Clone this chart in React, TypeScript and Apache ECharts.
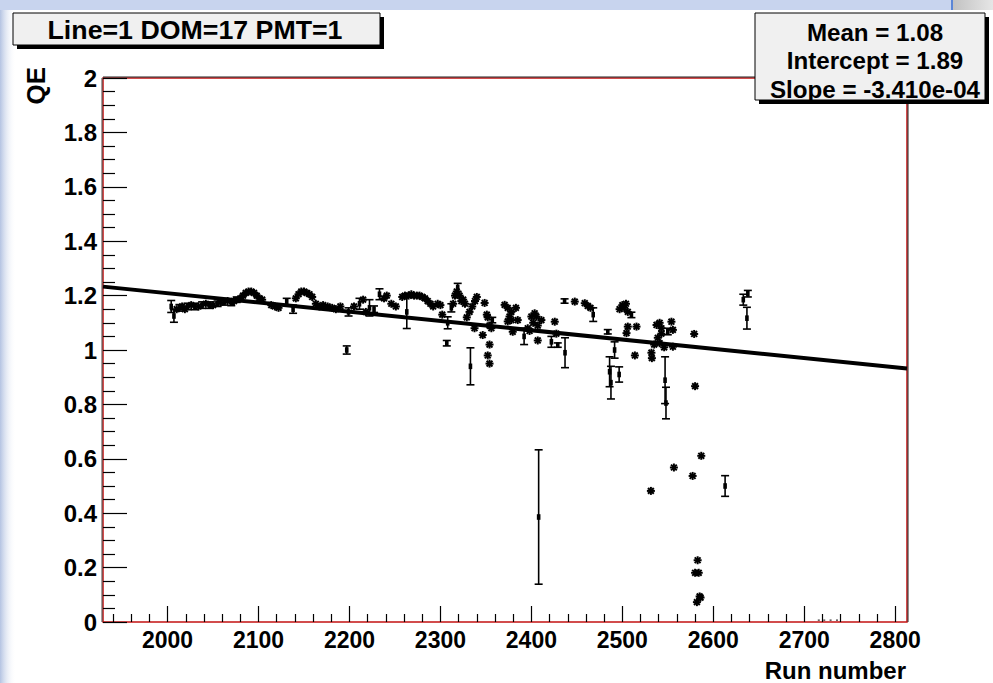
import React, { useEffect, useRef } from "react";
import * as echarts from "echarts";

// ---------- data ----------
const titleText = "Line=1 DOM=17 PMT=1";
const statsLines = ["Mean = 1.08", "Intercept = 1.89", "Slope = -3.410e-04"];
const xAxisTitle = "Run number";
const yAxisTitle = "QE";

const xMin = 1929;
const xMax = 2813;
const yMin = 0;
const yMax = 2;
const xMajorTicks = [2000, 2100, 2200, 2300, 2400, 2500, 2600, 2700, 2800];

// fit line (ends of the drawn line)
const fitRuns = [1929, 2813];
const fitQE = [1.233, 0.932];

// points drawn with visible error bars: [run, QE, error]
const errPoints: [number, number, number][] = [
  [2004, 1.16, 0.022], [2007, 1.125, 0.023], [2013, 1.155, 0.012], [2022, 1.16, 0.012],
  [2030, 1.16, 0.012], [2038, 1.165, 0.012], [2046, 1.165, 0.012], [2055, 1.17, 0.01],
  [2062, 1.175, 0.01], [2070, 1.175, 0.012], [2076, 1.185, 0.01], [2131, 1.178, 0.012],
  [2138, 1.15, 0.015], [2197, 1.0, 0.015], [2199, 1.14, 0.015], [2211, 1.17, 0.02],
  [2222, 1.155, 0.03], [2227, 1.15, 0.012], [2233, 1.205, 0.02], [2263, 1.14, 0.061],
  [2307, 1.025, 0.01], [2308, 1.1, 0.022], [2312, 1.155, 0.015], [2319, 1.23, 0.015],
  [2333, 0.94, 0.068], [2357, 1.11, 0.01], [2392, 1.05, 0.03], [2408, 0.386, 0.247],
  [2422, 1.03, 0.02], [2429, 1.018, 0.008], [2436.5, 1.18, 0.008], [2437, 0.99, 0.055],
  [2468, 1.13, 0.025], [2484, 1.067, 0.008], [2486, 0.92, 0.055], [2487.5, 0.88, 0.06],
  [2491.5, 1.0, 0.03], [2496.5, 0.91, 0.028], [2510, 1.129, 0.01], [2547, 0.889, 0.086],
  [2548, 0.805, 0.058], [2550, 1.068, 0.012], [2613, 0.5, 0.038], [2633, 1.185, 0.02],
  [2637, 1.117, 0.04], [2638, 1.207, 0.012],
];

// points whose error is smaller than the marker: [run, QE]
const starPoints: [number, number][] = [
  [2010, 1.15], [2016, 1.16], [2019, 1.15], [2026, 1.165], [2034, 1.16], [2042, 1.17],
  [2050, 1.165], [2058, 1.175], [2066, 1.18], [2073, 1.18], [2080, 1.19],
  [2083, 1.2], [2086, 1.21], [2089, 1.215], [2092, 1.215], [2095, 1.21], [2098, 1.2],
  [2101, 1.19], [2104, 1.185], [2114, 1.165], [2118, 1.16], [2122, 1.155],
  [2141, 1.19], [2144, 1.205], [2147, 1.215], [2150, 1.215], [2153, 1.21], [2156, 1.205],
  [2159, 1.195], [2163, 1.17], [2167, 1.16], [2171, 1.165], [2176, 1.16], [2181, 1.155],
  [2185, 1.15], [2190, 1.16], [2205, 1.16], [2215, 1.185], [2218, 1.14], [2238, 1.19],
  [2241, 1.2], [2246, 1.17], [2251, 1.16],
  [2258, 1.195], [2261, 1.2], [2265, 1.2], [2268, 1.205], [2271, 1.2], [2274, 1.2],
  [2277, 1.2], [2280, 1.195], [2283, 1.19], [2286, 1.18], [2289, 1.17], [2292, 1.16],
  [2297, 1.17], [2300, 1.165], [2302, 1.13], [2314, 1.17], [2316, 1.2], [2318, 1.215],
  [2321, 1.2], [2323, 1.18], [2325, 1.185], [2327, 1.17],
  [2329, 1.12], [2332, 1.14], [2335, 1.16], [2338, 1.18], [2340, 1.195], [2337.5, 1.08],
  [2348.6, 1.173], [2346.5, 1.055], [2351, 1.13], [2352, 1.12], [2354, 1.09], [2356, 1.08],
  [2354, 1.02], [2352, 0.98], [2354, 0.95],
  [2370.6, 1.166], [2374, 1.155], [2378, 1.14], [2383, 1.155], [2376, 1.123], [2378, 1.11],
  [2374, 1.105], [2385, 1.11], [2379.5, 1.067],
  [2400, 1.123], [2403.6, 1.135], [2405.5, 1.123], [2411, 1.11], [2402, 1.1], [2407, 1.09],
  [2398, 1.07], [2396, 1.08], [2407, 1.035], [2425.7, 1.104], [2427.5, 1.06],
  [2447.7, 1.178], [2458.7, 1.172], [2462, 1.162], [2465, 1.155],
  [2497, 1.15], [2500, 1.165], [2502, 1.155], [2504, 1.17], [2506, 1.14],
  [2506, 1.086], [2504.6, 1.062], [2515.6, 1.086], [2513.8, 0.98], [2532, 0.99], [2532.5, 0.97],
  [2537.6, 1.092], [2541, 1.1], [2543, 1.08], [2543, 1.06], [2541, 1.025], [2546, 1.01],
  [2535, 1.02], [2539, 1.045], [2554, 1.104], [2555.6, 1.074], [2555.6, 1.012],
  [2579, 1.059], [2580, 0.867], [2531.4, 0.482], [2556.7, 0.568], [2577.3, 0.537],
  [2586.8, 0.611], [2582.8, 0.227], [2580, 0.181], [2584, 0.181], [2585, 0.094],
  [2582, 0.073], [2586, 0.09],
];

// tiny points lying on the axis
const zeroPoints: [number, number][] = [
  [2716, 0.004], [2722, 0.004], [2729, 0.004], [2736, 0.004],
];

// ---------- component ----------
const FONT = "'Liberation Sans', Arial, Helvetica, sans-serif";

export default function App() {
  const ref = useRef<HTMLDivElement>(null);

  useEffect(() => {
    document.body.style.margin = "0";
    const chart = echarts.init(ref.current!, undefined, { renderer: "svg" });

    const minorTicks: number[] = [];
    for (let v = Math.ceil(xMin / 20) * 20; v <= xMax; v += 20) {
      if (v % 100 !== 0) minorTicks.push(v);
    }

    const gridLeft = 103, gridTop = 78, gridRight = 86, gridBottom = 61;

    const errRender = (params: any, api: any) => {
      const x = api.value(0), y = api.value(1), e = api.value(2);
      const c = api.coord([x, y]);
      const t = api.coord([x, y + e]);
      const b = api.coord([x, y - e]);
      const cw = 4;
      const st = { stroke: "#000", lineWidth: 1.6 };
      return {
        type: "group",
        children: [
          { type: "line", shape: { x1: c[0], y1: t[1], x2: c[0], y2: b[1] }, style: st },
          { type: "line", shape: { x1: c[0] - cw, y1: t[1], x2: c[0] + cw, y2: t[1] }, style: st },
          { type: "line", shape: { x1: c[0] - cw, y1: b[1], x2: c[0] + cw, y2: b[1] }, style: st },
          { type: "rect", shape: { x: c[0] - 1.8, y: c[1] - 2.8, width: 3.6, height: 5.6 }, style: { fill: "#000" } },
        ],
      };
    };

    const starRender = (params: any, api: any) => {
      const c = api.coord([api.value(0), api.value(1)]);
      const r = 4, d = 2.9;
      const st = { stroke: "#000", lineWidth: 2 };
      return {
        type: "group",
        children: [
          { type: "line", shape: { x1: c[0] - r, y1: c[1], x2: c[0] + r, y2: c[1] }, style: st },
          { type: "line", shape: { x1: c[0], y1: c[1] - r, x2: c[0], y2: c[1] + r }, style: st },
          { type: "line", shape: { x1: c[0] - d, y1: c[1] - d, x2: c[0] + d, y2: c[1] + d }, style: st },
          { type: "line", shape: { x1: c[0] - d, y1: c[1] + d, x2: c[0] + d, y2: c[1] - d }, style: st },
          { type: "circle", shape: { cx: c[0], cy: c[1], r: 2 }, style: { fill: "#000" } },
        ],
      };
    };

    const dotRender = (params: any, api: any) => {
      const c = api.coord([api.value(0), api.value(1)]);
      return { type: "rect", shape: { x: c[0] - 1, y: c[1] - 1.5, width: 2, height: 1.5 }, style: { fill: "#555" } };
    };

    const option: any = {
      animation: false,
      backgroundColor: "#ffffff",
      grid: {
        left: gridLeft, top: gridTop, right: gridRight, bottom: gridBottom,
        show: true, borderColor: "#c41212", borderWidth: 1.5, backgroundColor: "transparent",
      },
      xAxis: [
        {
          type: "value", min: xMin, max: xMax, position: "bottom",
          axisLine: { show: false },
          splitLine: { show: false },
          axisTick: { show: true, inside: true, length: 16, customValues: xMajorTicks, lineStyle: { color: "#000", width: 1.2 } },
          axisLabel: {
            customValues: xMajorTicks, margin: 6, color: "#000",
            fontFamily: FONT, fontWeight: "bold", fontSize: 23, lineHeight: 24,
            formatter: (v: number) => String(v),
          },
        },
        {
          type: "value", min: xMin, max: xMax, position: "bottom", offset: 0,
          axisLine: { show: false },
          splitLine: { show: false },
          axisTick: { show: true, inside: true, length: 8, customValues: minorTicks, lineStyle: { color: "#000", width: 1.2 } },
          axisLabel: { show: false },
        },
      ],
      yAxis: {
        type: "value", min: yMin, max: yMax, interval: 0.2,
        axisLine: { show: false },
        splitLine: { show: false },
        axisTick: { show: true, inside: true, length: 24, lineStyle: { color: "#000", width: 1.2 } },
        minorTick: { show: true, splitNumber: 4, length: 12, lineStyle: { color: "#000", width: 1.2 } },
        axisLabel: {
          margin: 6, color: "#000", fontFamily: FONT, fontWeight: "bold", fontSize: 24,
        },
      },
      series: [
        {
          type: "line", xAxisIndex: 0,
          data: fitRuns.map((r, i) => [r, fitQE[i]]),
          symbol: "none", lineStyle: { color: "#000", width: 4 }, z: 3, silent: true,
        },
        {
          type: "custom", xAxisIndex: 0, renderItem: errRender, clip: true, z: 4,
          encode: { x: 0, y: 1 },
          data: errPoints,
        },
        {
          type: "custom", xAxisIndex: 0, renderItem: starRender, clip: true, z: 4,
          encode: { x: 0, y: 1 },
          data: starPoints,
        },
        {
          type: "custom", xAxisIndex: 0, renderItem: dotRender, clip: false, z: 4,
          encode: { x: 0, y: 1 },
          data: zeroPoints,
        },
      ],
      graphic: [
        // desktop background fragments around the canvas
        {
          type: "rect", z: -10, shape: { x: 0, y: 0, width: 16, height: 683 },
          style: {
            fill: new echarts.graphic.LinearGradient(0, 0, 1, 0, [
              { offset: 0, color: "#b4c3e2" }, { offset: 1, color: "rgba(255,255,255,0)" },
            ]),
          },
        },
        { type: "rect", z: -9, shape: { x: 0, y: 0, width: 952, height: 10 }, style: { fill: "#c8d4ee" } },
        {
          type: "rect", z: -9, shape: { x: 953, y: 0, width: 40, height: 10 },
          style: {
            fill: new echarts.graphic.LinearGradient(0, 0, 1, 0, [
              { offset: 0, color: "#c2c2c2" }, { offset: 1, color: "#e6e6e6" },
            ]),
          },
        },
        { type: "rect", z: -8, shape: { x: 951, y: 0, width: 2, height: 10 }, style: { fill: "#5b86d6" } },
        // outer axis line (dark) next to the red frame
        { type: "line", z: 5, shape: { x1: gridLeft - 1, y1: gridTop, x2: gridLeft - 1, y2: 683 - gridBottom }, style: { stroke: "#444", lineWidth: 1 } },
        { type: "line", z: 5, shape: { x1: gridLeft, y1: gridTop - 1, x2: 993 - gridRight, y2: gridTop - 1 }, style: { stroke: "#222", lineWidth: 1 } },
        { type: "line", z: 5, shape: { x1: 993 - gridRight + 1, y1: gridTop, x2: 993 - gridRight + 1, y2: 683 - gridBottom }, style: { stroke: "#222", lineWidth: 1 } },
        // title box
        { type: "rect", z: 20, shape: { x: 17, y: 17, width: 367, height: 32 }, style: { fill: "#000" } },
        { type: "rect", z: 21, shape: { x: 13, y: 13, width: 367, height: 32 }, style: { fill: "#f0f0f0", stroke: "#000", lineWidth: 1 } },
        {
          type: "text", z: 22, x: 195, y: 30, scaleX: 1.07,
          style: { text: titleText, fill: "#000", font: `bold 25px ${FONT}`, textAlign: "center", textVerticalAlign: "middle" },
        },
        // stats box
        { type: "rect", z: 20, shape: { x: 759, y: 17, width: 230, height: 87 }, style: { fill: "#000" } },
        { type: "rect", z: 21, shape: { x: 755, y: 13, width: 230, height: 87 }, style: { fill: "#f0f0f0", stroke: "#000", lineWidth: 1 } },
        ...statsLines.map((t, i) => ({
          type: "text", z: 22, x: 875, y: 33 + i * 28.5, scaleX: 1.05,
          style: { text: t, fill: "#000", font: `bold 23px ${FONT}`, textAlign: "center", textVerticalAlign: "middle" },
        })),
        // axis titles
        {
          type: "text", z: 22, x: 36, y: 67, rotation: Math.PI / 2,
          style: { text: yAxisTitle, fill: "#000", font: `bold 26px ${FONT}`, textAlign: "right", textVerticalAlign: "middle" },
        },
        {
          type: "text", z: 22, x: 906, y: 670,
          style: { text: xAxisTitle, fill: "#000", font: `bold 24px ${FONT}`, textAlign: "right", textVerticalAlign: "middle" },
        },
      ],
    };

    chart.setOption(option);
    return () => chart.dispose();
  }, []);

  return <div ref={ref} style={{ width: 993, height: 683 }} />;
}
